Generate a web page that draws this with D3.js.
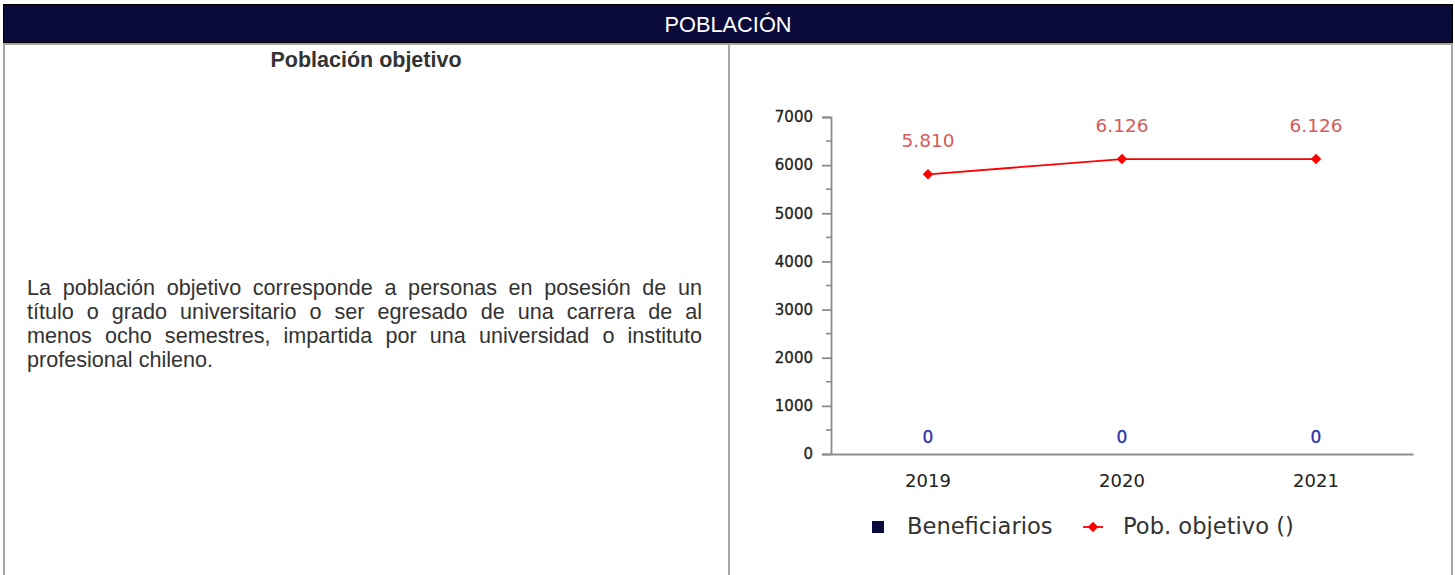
<!DOCTYPE html>
<html><head><meta charset="utf-8">
<script src="https://cdn.jsdelivr.net/npm/d3@7"></script>
<style>
body{margin:0;background:#fff;width:1455px;height:575px;overflow:hidden;position:relative;font-family:"Liberation Sans",Arial,sans-serif;}
#para{position:absolute;left:27px;top:276px;width:675px;font-size:21.6px;line-height:24px;color:#333;}
#para div{text-align:justify;text-align-last:justify;white-space:nowrap;}
#para div.last{text-align-last:left;}
svg{position:absolute;left:0;top:0;}
</style></head>
<body>
<svg id="chart" width="1455" height="575"></svg>
<div id="para"></div>
<script>
const years = ["2019","2020","2021"];
const beneficiarios = [0,0,0];
const pobObjetivo = [5810,6126,6126];
const pobLabels = ["5.810","6.126","6.126"];
const yTicks = [0,1000,2000,3000,4000,5000,6000,7000];
const yMinor = [500,1500,2500,3500,4500,5500,6500];
const headerText = "POBLACIÓN";
const leftTitle = "Población objetivo";
const paraLines = [
 "La población objetivo corresponde a personas en posesión de un",
 "título o grado universitario o ser egresado de una carrera de al",
 "menos ocho semestres, impartida por una universidad o instituto",
 "profesional chileno."
];
const legendItems = ["Beneficiarios","Pob. objetivo ()"];

const navy = "#0b0b3b", border = "#a6a6a6";
const svg = d3.select("#chart");

// table frame
svg.append("rect").attr("x",3.5).attr("y",4.5).attr("width",1449).attr("height",38)
  .attr("fill",navy).attr("stroke","#000").attr("stroke-width",1);
svg.append("text").attr("x",728).attr("y",32).attr("text-anchor","middle")
  .attr("fill","#fff").attr("font-family","Liberation Sans, Arial").attr("font-size",21.8).text(headerText);
svg.append("rect").attr("x",3).attr("y",43).attr("width",1450).attr("height",2).attr("fill",border);
svg.append("rect").attr("x",3).attr("y",43).attr("width",2).attr("height",532).attr("fill",border);
svg.append("rect").attr("x",728).attr("y",43).attr("width",2).attr("height",532).attr("fill",border);
svg.append("rect").attr("x",1451).attr("y",43).attr("width",2).attr("height",532).attr("fill",border);

svg.append("text").attr("x",366).attr("y",67).attr("text-anchor","middle")
  .attr("fill","#333").attr("font-family","Liberation Sans, Arial").attr("font-weight","bold")
  .attr("font-size",21.5).text(leftTitle);

d3.select("#para").selectAll("div").data(paraLines).join("div")
  .attr("class",(d,i)=>i===paraLines.length-1?"last":null).text(d=>d);

// chart
const x = d3.scaleBand().domain(years).range([831,1413]);
const y = d3.scaleLinear().domain([0,7000]).range([454,117]);
const font = "DejaVu Sans, sans-serif";

const ya = svg.append("g").attr("transform","translate(831,0)")
  .call(d3.axisLeft(y).tickValues(yTicks).tickSize(9).tickPadding(9).tickFormat(d3.format("d")));
ya.select(".domain").attr("stroke","#8c8c8c").attr("stroke-width",1.8);
ya.selectAll(".tick line").attr("stroke","#8c8c8c").attr("stroke-width",1.8);
ya.selectAll("text").attr("font-family",font).attr("font-size",15).attr("fill","#222")
  .attr("stroke","#222").attr("stroke-width",0.3);
svg.append("g").selectAll("line").data(yMinor).join("line")
  .attr("x1",826).attr("x2",831).attr("y1",d=>y(d)).attr("y2",d=>y(d))
  .attr("stroke","#8c8c8c").attr("stroke-width",1.6);

const xa = svg.append("g").attr("transform","translate(0,454)")
  .call(d3.axisBottom(x).tickSize(0).tickPadding(20));
xa.select(".domain").attr("stroke","#8c8c8c").attr("stroke-width",1.8);
xa.selectAll("text").attr("font-family",font).attr("font-size",18).attr("fill","#222");

// bars (zero-valued)
svg.append("g").selectAll("rect").data(beneficiarios).join("rect")
  .attr("x",(d,i)=>x(years[i])+x.bandwidth()*0.3).attr("width",x.bandwidth()*0.4)
  .attr("y",d=>y(d)).attr("height",d=>y(0)-y(d)).attr("fill",navy);
svg.append("g").selectAll("text").data(beneficiarios).join("text")
  .attr("x",(d,i)=>x(years[i])+x.bandwidth()/2).attr("y",d=>y(d)-11)
  .attr("text-anchor","middle").attr("font-family",font).attr("font-size",17)
  .attr("fill","#3030a8").attr("stroke","#3030a8").attr("stroke-width",0.3).text(d=>d3.format("d")(d));

// line
const line = d3.line().x((d,i)=>x(years[i])+x.bandwidth()/2).y(d=>y(d));
svg.append("path").datum(pobObjetivo).attr("d",line).attr("fill","none")
  .attr("stroke","#ff0000").attr("stroke-width",1.8);
const diamond = d3.symbol().type(d3.symbolDiamond2).size(70);
svg.append("g").selectAll("path").data(pobObjetivo).join("path")
  .attr("transform",(d,i)=>`translate(${x(years[i])+x.bandwidth()/2},${y(d)})`)
  .attr("d",diamond).attr("fill","#ff0000");
svg.append("g").selectAll("text").data(pobObjetivo).join("text")
  .attr("x",(d,i)=>x(years[i])+x.bandwidth()/2).attr("y",d=>y(d)-27)
  .attr("text-anchor","middle").attr("font-family",font).attr("font-size",18.5)
  .attr("fill","#d55a5a").text((d,i)=>pobLabels[i]);

// legend
const lg = svg.append("g");
lg.append("rect").attr("x",872).attr("y",521).attr("width",12).attr("height",12).attr("fill",navy);
lg.append("text").attr("x",907).attr("y",534).attr("font-family",font).attr("font-size",22.6)
  .attr("fill","#333").text(legendItems[0]);
lg.append("line").attr("x1",1083).attr("x2",1103).attr("y1",527).attr("y2",527)
  .attr("stroke","#ff0000").attr("stroke-width",1.8);
lg.append("path").attr("transform","translate(1093,527)").attr("d",diamond).attr("fill","#ff0000");
lg.append("text").attr("x",1123).attr("y",534).attr("font-family",font).attr("font-size",22.6)
  .attr("fill","#333").text(legendItems[1]);
</script>
</body></html>
